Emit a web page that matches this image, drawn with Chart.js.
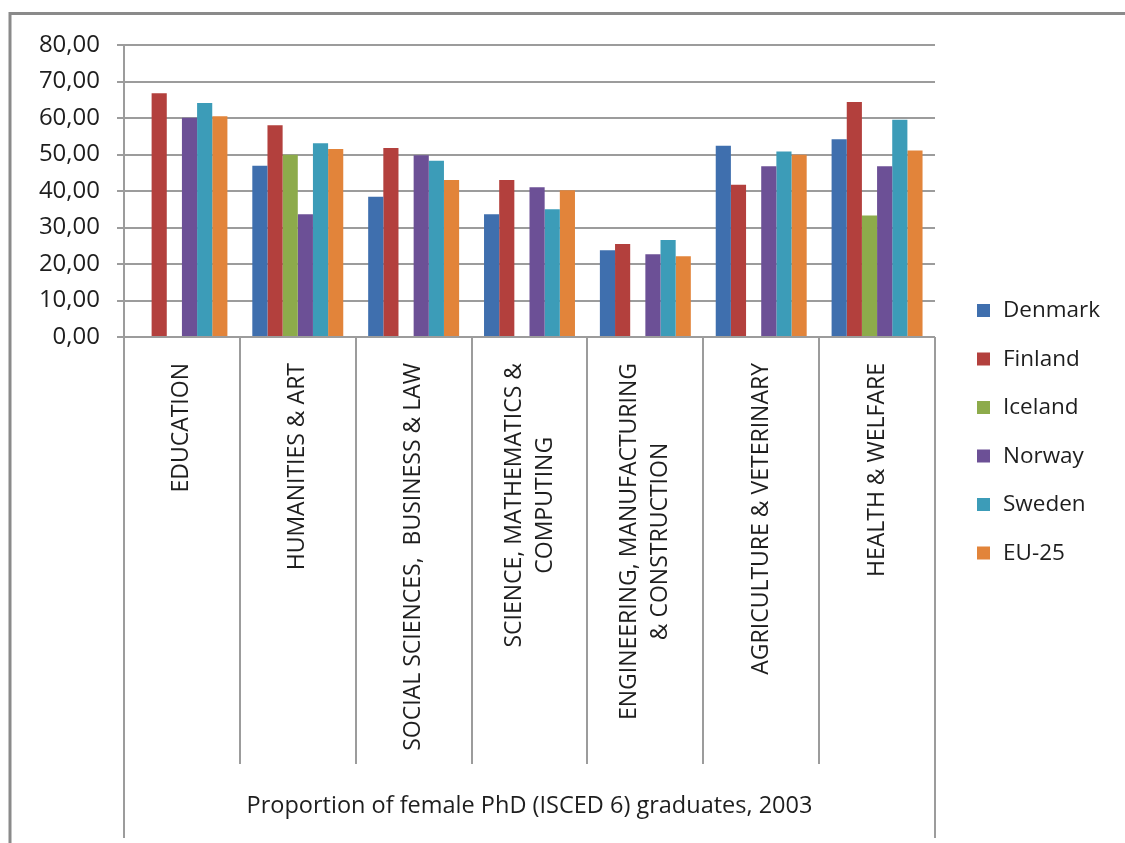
<!DOCTYPE html>
<html>
<head>
<meta charset="utf-8">
<script src="https://cdn.jsdelivr.net/npm/chart.js@4.4.1/dist/chart.umd.min.js"></script>
<style>
  html, body { margin: 0; padding: 0; background: #fff; }
  #wrap { position: relative; width: 1125px; height: 843px; }
</style>
</head>
<body>
<div id="wrap"><canvas id="phdChart" width="1125" height="843"></canvas></div>
<script>
// Proportion of female PhD (ISCED 6) graduates, 2003

const categories = [
  ['EDUCATION'],
  ['HUMANITIES & ART'],
  ['SOCIAL SCIENCES,  BUSINESS & LAW'],
  ['SCIENCE, MATHEMATICS &', 'COMPUTING'],
  ['ENGINEERING, MANUFACTURING', '& CONSTRUCTION'],
  ['AGRICULTURE & VETERINARY'],
  ['HEALTH & WELFARE'],
];

const denmark = [null, 46.9, 38.4, 33.6, 23.8, 52.4, 54.2];
const finland = [66.8, 58.0, 51.8, 43.0, 25.5, 41.7, 64.4];
const iceland = [null, 49.9, null, null, null, null, 33.3];
const norway  = [60.1, 33.6, 49.8, 41.0, 22.7, 46.8, 46.8];
const sweden  = [64.1, 53.1, 48.3, 35.0, 26.6, 50.8, 59.5];
const eu25    = [60.5, 51.5, 43.0, 40.2, 22.1, 49.9, 51.1];

const yTicks = [0, 10, 20, 30, 40, 50, 60, 70, 80];
const axisTitle = 'Proportion of female PhD (ISCED 6) graduates, 2003';

const FONT = "'Open Sans', 'DejaVu Sans', sans-serif";
const TEXT = '#1e1e1e';
const LINE = '#9c9c9c';

const series = [
  { label: 'Denmark', data: denmark, color: '#3f6fae' },
  { label: 'Finland', data: finland, color: '#b3403d' },
  { label: 'Iceland', data: iceland, color: '#8dab4b' },
  { label: 'Norway',  data: norway,  color: '#6c5096' },
  { label: 'Sweden',  data: sweden,  color: '#3c9cb8' },
  { label: 'EU-25',   data: eu25,    color: '#e2843a' },
];

// frame, category box, rotated labels, axis title and legend
const decorPlugin = {
  id: 'decor',
  beforeDraw(chart) {
    const ctx = chart.ctx;
    ctx.save();
    ctx.strokeStyle = '#8a8a8a';
    ctx.lineWidth = 3;
    ctx.beginPath();
    ctx.moveTo(10, 843);
    ctx.lineTo(10, 13.5);
    ctx.lineTo(1125, 13.5);
    ctx.stroke();
    ctx.restore();
  },
  afterDraw(chart) {
    const ctx = chart.ctx;
    const area = chart.chartArea;
    const x = chart.scales.x;
    const step = x.getPixelForValue(1) - x.getPixelForValue(0);

    ctx.save();
    ctx.strokeStyle = LINE;
    ctx.lineWidth = 2;
    // outer sides of the category box
    ctx.beginPath();
    ctx.moveTo(area.left, area.bottom);
    ctx.lineTo(area.left, 838);
    ctx.moveTo(area.right, area.bottom);
    ctx.lineTo(area.right, 838);
    // inner separators
    for (let i = 1; i < categories.length; i++) {
      const sx = Math.round(x.getPixelForValue(i) - step / 2);
      ctx.moveTo(sx, area.bottom);
      ctx.lineTo(sx, 764);
    }
    ctx.stroke();

    // category labels, rotated, ending near the axis
    ctx.fillStyle = TEXT;
    ctx.font = '23px ' + FONT;
    ctx.textAlign = 'center';
    ctx.textBaseline = 'middle';
    const lh = 31;
    categories.forEach((lines, i) => {
      const cx = x.getPixelForValue(i);
      const w = Math.max(...lines.map(l => ctx.measureText(l).width));
      ctx.save();
      ctx.translate(cx, 363);
      ctx.rotate(-Math.PI / 2);
      lines.forEach((l, j) => {
        ctx.fillText(l, -w / 2, (j - (lines.length - 1) / 2) * lh);
      });
      ctx.restore();
    });

    // axis title under the categories
    ctx.font = '23.5px ' + FONT;
    ctx.textBaseline = 'alphabetic';
    ctx.fillText(axisTitle, (area.left + area.right) / 2, 813);

    // legend
    ctx.font = '22.5px ' + FONT;
    ctx.textAlign = 'left';
    ctx.textBaseline = 'middle';
    chart.data.datasets.forEach((ds, i) => {
      const y = 304 + i * 48.5;
      ctx.fillStyle = ds.backgroundColor;
      ctx.fillRect(977, y, 13, 13);
      ctx.fillStyle = TEXT;
      ctx.fillText(ds.label, 1003, y + 7);
    });
    ctx.restore();
  },
};

const ctx = document.getElementById('phdChart').getContext('2d');
new Chart(ctx, {
  type: 'bar',
  data: {
    labels: categories.map(c => c.join(' ')),
    datasets: series.map(s => ({
      label: s.label,
      data: s.data,
      backgroundColor: s.color,
      borderWidth: 0,
      categoryPercentage: 0.785,
      barPercentage: 1.0,
    })),
  },
  options: {
    responsive: false,
    animation: false,
    devicePixelRatio: 1,
    layout: { padding: { left: 0, top: 45, right: 190, bottom: 506 } },
    plugins: {
      legend: { display: false },
      tooltip: { enabled: false },
    },
    scales: {
      x: { display: false },
      y: {
        min: 0,
        max: 80,
        afterFit(scale) { scale.width = 124; },
        afterBuildTicks(scale) { scale.ticks = yTicks.map(v => ({ value: v })); },
        grid: { color: LINE, lineWidth: 2, tickLength: 7 },
        border: { color: LINE, width: 2 },
        ticks: {
          color: TEXT,
          padding: 17,
          font: { family: FONT, size: 24 },
          callback: v => v.toFixed(2).replace('.', ','),
        },
      },
    },
  },
  plugins: [decorPlugin],
});
</script>
</body>
</html>
